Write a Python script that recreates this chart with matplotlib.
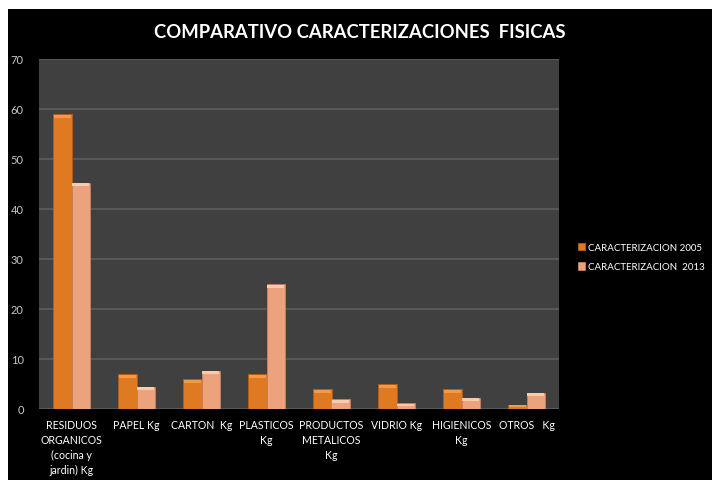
import numpy as np
import matplotlib
matplotlib.use('Agg')
import matplotlib.pyplot as plt
from matplotlib.patches import Rectangle

# Data
categories = ["RESIDUOS\nORGANICOS\n(cocina y\njardin) Kg", "PAPEL Kg", "CARTON  Kg", "PLASTICOS\nKg",
              "PRODUCTOS\nMETALICOS\nKg", "VIDRIO Kg", "HIGIENICOS\nKg", "OTROS   Kg"]
caract_2005 = [59, 7, 6, 7, 4, 5, 4, 0.9]
caract_2013 = [45.3, 4.5, 7.7, 25, 2, 1.2, 2.3, 3.3]
series_labels = ["CARACTERIZACION 2005", "CARACTERIZACION  2013"]
yticks = [0, 10, 20, 30, 40, 50, 60, 70]

plt.rcParams['font.family'] = ['Lato', 'DejaVu Sans']

W, H = 712, 481
fig = plt.figure(figsize=(W / 100, H / 100), dpi=100, facecolor='white')
# black chart area (white strip on top/left like the screenshot)
fig.add_artist(Rectangle((8 / W, 0), 1, 1 - 10 / H, transform=fig.transFigure,
                         facecolor='black', edgecolor='none', zorder=0))

ax = fig.add_axes([39 / W, 1 - 410 / H, (559 - 39) / W, (410 - 60) / H])
ax.set_facecolor('#404040')

x = np.arange(len(categories))
w = 0.28
b1 = ax.bar(x - w / 2, caract_2005, w, color='#e07a22', edgecolor='#b55f14', lw=0.6,
            label=series_labels[0], zorder=3)
b2 = ax.bar(x + w / 2, caract_2013, w, color='#eca27c', edgecolor='#c7825e', lw=0.6,
            label=series_labels[1], zorder=3)
# soft light cap on top of each bar
for bars, cap in ((b1, '#f39a48'), (b2, '#f8ccaa')):
    for r in bars:
        h = r.get_height()
        ch = min(0.6, h * 0.4)
        ax.add_patch(Rectangle((r.get_x() + 0.01, h - ch - 0.15), r.get_width() - 0.02, ch,
                               facecolor=cap, edgecolor='none', zorder=4))

ax.set_xlim(-0.5, len(categories) - 0.5)
ax.set_ylim(0, 70)
ax.set_yticks(yticks)
ax.yaxis.grid(True, color='#5e5e5e', lw=1.2, zorder=1)
ax.set_axisbelow(True)
ax.set_xticks(x)
ax.set_xticklabels(categories, color='white', fontsize=7.6, linespacing=1.45, va='top')
ax.tick_params(axis='y', colors='#c8c8c8', labelsize=8, length=0, pad=11)
ax.tick_params(axis='x', length=0, pad=7)
for s in ax.spines.values():
    s.set_visible(False)

fig.text(0.505, 1 - 33 / H, "COMPARATIVO CARACTERIZACIONES  FISICAS", color='white',
         fontsize=13.3, fontweight='bold', ha='center', va='center')

leg = fig.legend(handles=[b1, b2], loc='center left', bbox_to_anchor=(578 / W, 1 - 258 / H),
                 frameon=False, fontsize=7, labelcolor='white', handlelength=0.75,
                 handleheight=0.75, handletextpad=0.3, labelspacing=1.1, borderpad=0,
                 borderaxespad=0)

fig.savefig('out.png', dpi=100, facecolor='white')
